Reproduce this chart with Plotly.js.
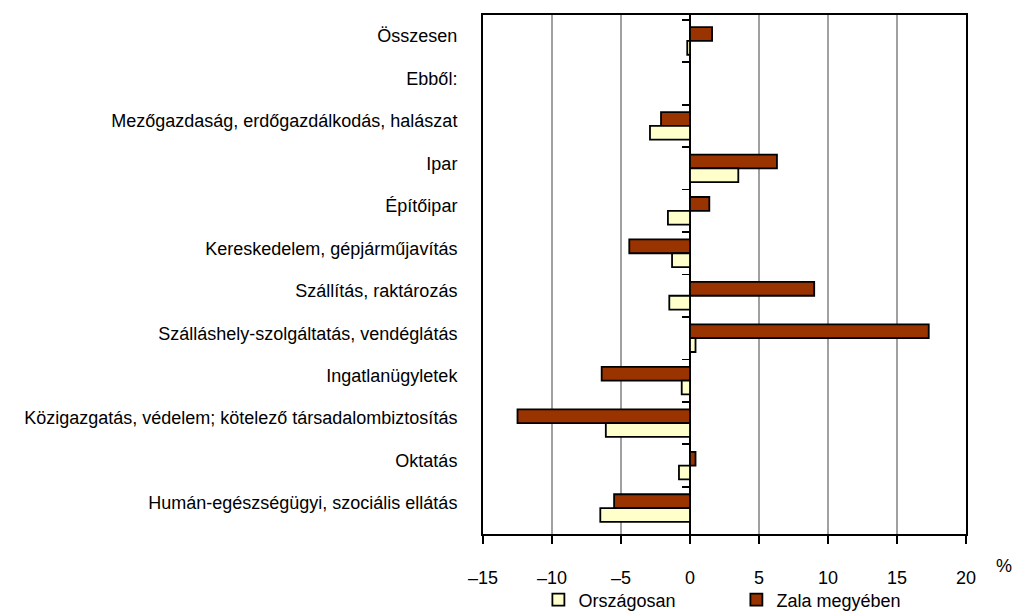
<!DOCTYPE html>
<html>
<head>
<meta charset="utf-8">
<script src="https://cdn.plot.ly/plotly-3.0.1.min.js"></script>
<style>html,body{margin:0;padding:0;background:#fff;}#chart{width:1012px;height:616px;}</style>
</head>
<body>
<div id="chart"></div>
<script>
const categories = [
  "Összesen",
  "Ebből:",
  "Mezőgazdaság, erdőgazdálkodás, halászat",
  "Ipar",
  "Építőipar",
  "Kereskedelem, gépjárműjavítás",
  "Szállítás, raktározás",
  "Szálláshely-szolgáltatás, vendéglátás",
  "Ingatlanügyletek",
  "Közigazgatás, védelem; kötelező társadalombiztosítás",
  "Oktatás",
  "Humán-egészségügyi, szociális ellátás"
];
const orszagosan = [-0.2, null, -2.9, 3.5, -1.6, -1.3, -1.5, 0.4, -0.6, -6.1, -0.8, -6.5];
const zala = [1.6, null, -2.1, 6.3, 1.4, -4.4, 9.0, 17.3, -6.4, -12.5, 0.4, -5.5];
const seriesNames = ["Országosan", "Zala megyében"];
const xTicks = [-15, -10, -5, 0, 5, 10, 15, 20];
const xTickLabels = ["–15", "–10", "–5", "0", "5", "10", "15", "20"];

const FONT = "Liberation Sans, Arial, sans-serif";
const xMin = -15, xMax = 20;

const traces = [
  {
    type: "bar", orientation: "h", name: seriesNames[1],
    y: categories, x: zala, legendrank: 2,
    marker: {color: "#993300", line: {color: "#000", width: 1.8}},
    hoverinfo: "x+y"
  },
  {
    type: "bar", orientation: "h", name: seriesNames[0],
    y: categories, x: orszagosan, legendrank: 1,
    marker: {color: "#FFFFCC", line: {color: "#000", width: 1.8}},
    hoverinfo: "x+y"
  },
  {
    type: "scatter", mode: "none", y: categories, x: categories.map(() => null),
    yaxis: "y2", showlegend: false, hoverinfo: "skip"
  }
];

const layout = {
  width: 1012, height: 616,
  margin: {l: 483, r: 46, t: 15, b: 82},
  paper_bgcolor: "#fff", plot_bgcolor: "#fff",
  font: {family: FONT, size: 18, color: "#000"},
  barmode: "group", bargap: 0.35, bargroupgap: 0,
  showlegend: true,
  legend: {
    orientation: "h", xref: "container", yref: "container",
    x: 0.532, xanchor: "left", y: 0.056, yanchor: "top",
    font: {family: FONT, size: 18}, entrywidth: 153, entrywidthmode: "pixels",
    bgcolor: "rgba(0,0,0,0)"
  },
  xaxis: {
    range: [xMin, xMax], tickmode: "array", tickvals: xTicks, ticktext: xTickLabels,
    showgrid: true, gridcolor: "#A0A0A0", gridwidth: 1.3,
    zeroline: true, zerolinecolor: "#000", zerolinewidth: 1.8,
    showline: true, linecolor: "#000", linewidth: 2, mirror: true,
    ticks: "outside", ticklen: 8, tickwidth: 1.8, tickcolor: "#000",
    ticklabelstandoff: 18,
    tickfont: {family: FONT, size: 18}, fixedrange: true
  },
  yaxis: {
    type: "category", categoryorder: "array", categoryarray: categories,
    autorange: "reversed",
    showgrid: false, zeroline: false,
    showline: true, linecolor: "#000", linewidth: 2, mirror: true,
    ticks: "", ticklabelstandoff: 20, ticklabelshift: 5,
    tickfont: {family: FONT, size: 18}, fixedrange: true
  },
  yaxis2: {
    type: "category", categoryorder: "array", categoryarray: categories,
    overlaying: "y", matches: "y", anchor: "free",
    position: (0 - xMin) / (xMax - xMin), side: "left",
    showticklabels: false, showgrid: false, zeroline: false, showline: false,
    ticks: "outside", tickson: "boundaries", ticklen: 8, tickwidth: 1.8, tickcolor: "#000",
    fixedrange: true
  },
  annotations: [
    {text: "%", xref: "paper", yref: "paper", x: 1.079, y: -0.062, xanchor: "center", yanchor: "middle",
     showarrow: false, font: {family: FONT, size: 18}}
  ]
};

Plotly.newPlot("chart", traces, layout, {displayModeBar: false, staticPlot: true});
</script>
</body>
</html>
